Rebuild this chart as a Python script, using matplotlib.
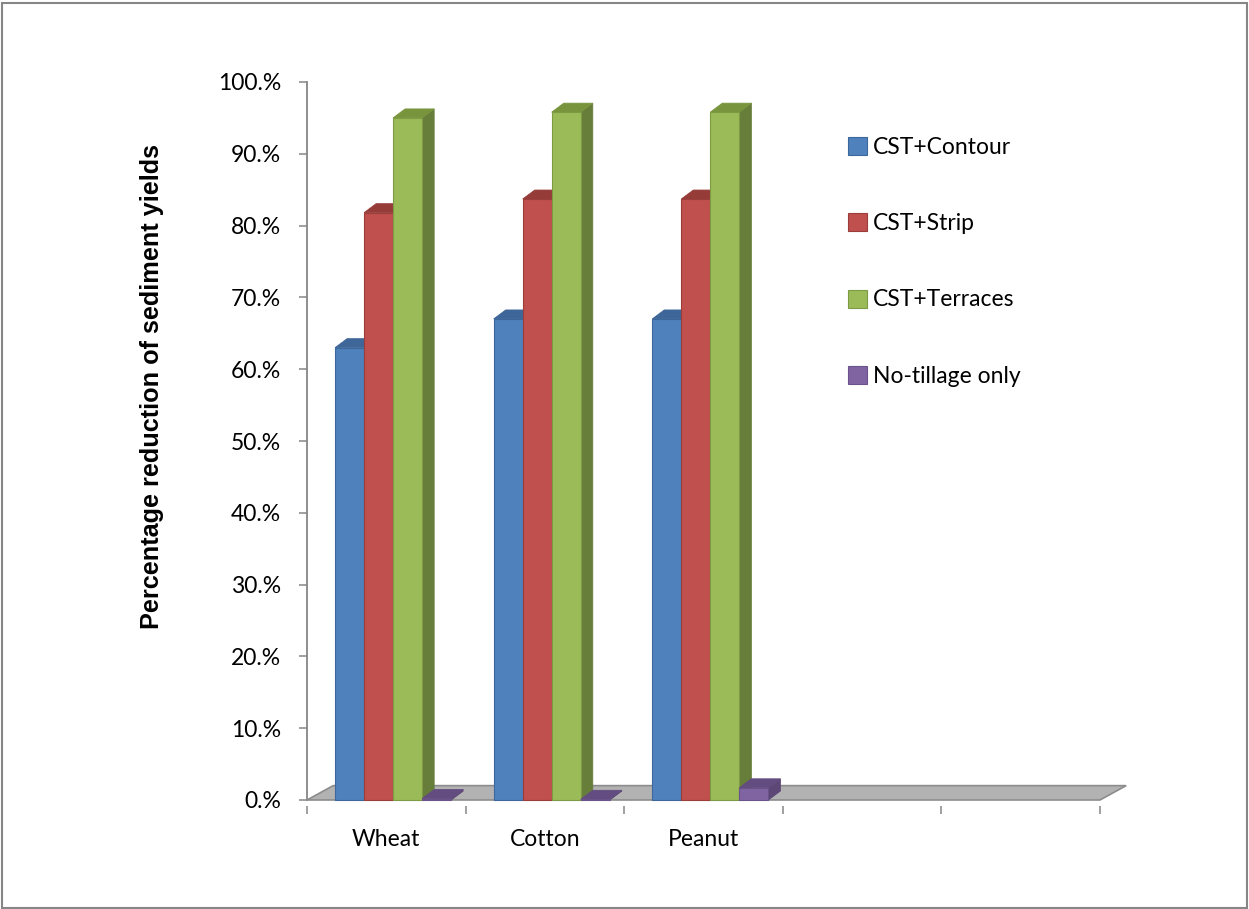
import matplotlib
matplotlib.use("Agg")
import matplotlib.pyplot as plt
from matplotlib.patches import Polygon, Patch, Rectangle

# data
categories = ["Wheat", "Cotton", "Peanut", "", ""]
series = ["CST+Contour", "CST+Strip", "CST+Terraces", "No-tillage only"]
contour = [63.0, 67.0, 67.0]
strip = [81.8, 83.7, 83.7]
terraces = [95.0, 95.8, 95.8]
notill = [0.2, 0.1, 1.7]
values = [contour, strip, terraces, notill]

front_cols = ["#4f81bd", "#c0504d", "#9bbb59", "#8064a2"]
side_cols = ["#385d8a", "#8c3836", "#677d3a", "#5c4776"]
top_cols = ["#3e6698", "#953c39", "#78953d", "#634d80"]
edge_cols = ["#3b679b", "#9b3d3a", "#7d9a45", "#6a528a"]

fig = plt.figure(figsize=(12.49, 9.09), dpi=100)
W, H = 1249, 909
ax = fig.add_axes([307 / W, 1 - 800 / H, 793 / W, 718 / H])
ax.set_xlim(0, len(categories))
ax.set_ylim(0, 100)

# depth of the fake 3D look, in data units
dx, dy = 0.0757, 1.25
fdx, fdy = 0.165, 2.0
bar_w = 0.183
start = 0.177

# floor
floor = Polygon([(0, 0), (fdx, fdy), (len(categories) + fdx, fdy), (len(categories), 0)],
                closed=True, facecolor="#b2b2b2", edgecolor="#8c8c8c", lw=1.2,
                clip_on=False, zorder=1)
ax.add_patch(floor)

z = 2
for j in range(3):
    for i, vals in enumerate(values):
        x0 = j + start + i * bar_w
        h = vals[j]
        side = Polygon([(x0 + bar_w, 0), (x0 + bar_w + dx, dy), (x0 + bar_w + dx, h + dy), (x0 + bar_w, h)],
                       closed=True, facecolor=side_cols[i], edgecolor=side_cols[i], lw=0.6,
                       clip_on=False, zorder=z)
        top = Polygon([(x0, h), (x0 + dx, h + dy), (x0 + bar_w + dx, h + dy), (x0 + bar_w, h)],
                      closed=True, facecolor=top_cols[i], edgecolor=top_cols[i], lw=0.6,
                      clip_on=False, zorder=z)
        ax.add_patch(side)
        ax.add_patch(top)
        ax.bar(x0, h, bar_w, align="edge", color=front_cols[i], edgecolor=edge_cols[i],
               linewidth=0.8, clip_on=False, zorder=z + 0.5)
        z += 1

for s in ["top", "right", "bottom"]:
    ax.spines[s].set_visible(False)
ax.spines["left"].set_color("#868686")
ax.spines["left"].set_linewidth(1.3)

yt = list(range(0, 101, 10))
ax.set_yticks(yt)
ax.set_yticklabels([f"{v}.%" for v in yt])
ax.tick_params(axis="y", length=5.5, width=1.1, color="#868686", pad=13,
               labelsize=16.5, labelfontfamily="Lato")

ax.set_xticks(range(len(categories) + 1))
ax.set_xticklabels([""] * (len(categories) + 1))
ax.set_xticks([k + 0.5 for k in range(len(categories))], minor=True)
ax.set_xticklabels(categories, minor=True)
ax.tick_params(axis="x", which="major", length=5.5, width=1.1, color="#868686", pad=0)
ax.tick_params(axis="x", which="minor", length=0, pad=17,
               labelsize=16.5, labelfontfamily="Lato")
ax.spines["bottom"].set_position(("outward", 4))

fig.text(152 / W, 1 - 387 / H, "Percentage reduction of sediment yields", rotation=90,
         ha="center", va="center", fontfamily="Liberation Sans", fontweight="bold", fontsize=18.2)

handles = [Patch(facecolor=front_cols[i], edgecolor=edge_cols[i], lw=0.8) for i in range(4)]
fig.legend(handles, series, loc="upper left", bbox_to_anchor=(848 / W, 1 - 137 / H),
           frameon=False, prop={"family": "Lato", "size": 16.5},
           handlelength=0.83, handleheight=0.83, handletextpad=0.25, labelspacing=2.41,
           borderpad=0, borderaxespad=0)

fig.add_artist(Rectangle((1.5 / W, 1.5 / H), 1245.5 / W, 904.5 / H, transform=fig.transFigure,
                         fill=False, edgecolor="#868686", lw=1.5))

fig.savefig("out.png", dpi=100)
